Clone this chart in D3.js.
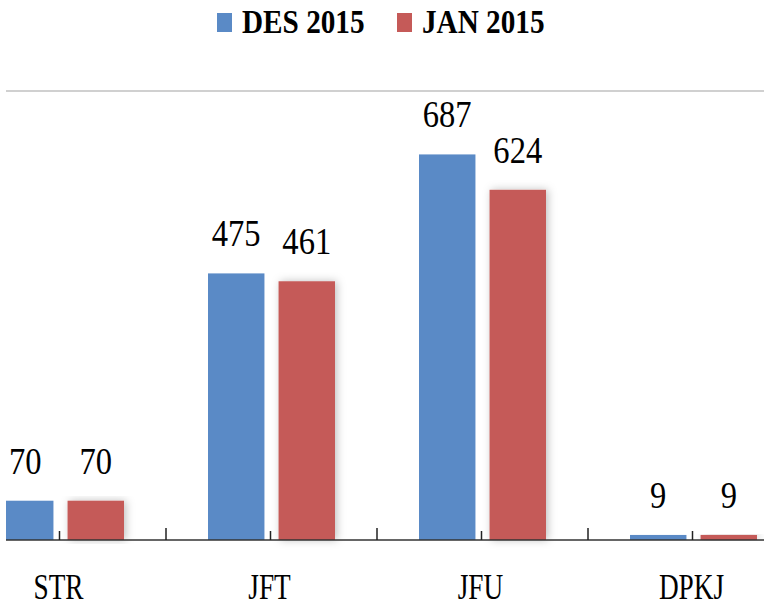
<!DOCTYPE html>
<html>
<head>
<meta charset="utf-8">
<script src="https://cdn.jsdelivr.net/npm/d3@7"></script>
<style>
  body { margin: 0; background: #fff; }
  svg text { font-family: "Liberation Serif", "DejaVu Serif", "Times New Roman", serif; fill: #000; }
</style>
</head>
<body>
<svg width="764" height="608"></svg>
<script>
var categories = ["STR", "JFT", "JFU", "DPKJ"];
var seriesNames = ["DES 2015", "JAN 2015"];
var des2015 = [70, 475, 687, 9];
var jan2015 = [70, 461, 624, 9];
var colors = ["#5a8ac6", "#c55a58"];

var svg = d3.select("svg"),
    width = +svg.attr("width"),
    height = +svg.attr("height");

var plotLeft = 6, baseY = 540, topY = 91;
var serif = "'Liberation Serif', 'DejaVu Serif', serif";

var x = d3.scaleBand()
    .domain(categories)
    .range([-45, 799])
    .paddingInner(0)
    .paddingOuter(0);

var xs = d3.scaleBand()
    .domain(seriesNames)
    .range([x.bandwidth() / 2 - 63.5, x.bandwidth() / 2 + 63.5])
    .paddingInner(0.2);

var y = d3.scaleLinear()
    .domain([0, 800])
    .range([baseY, topY]);

var defs = svg.append("defs");
defs.append("clipPath").attr("id", "plotclip")
    .append("rect").attr("x", plotLeft).attr("y", 0).attr("width", width - plotLeft).attr("height", height);
var shadow = defs.append("filter").attr("id", "shadow")
    .attr("x", "-30%").attr("y", "-10%").attr("width", "160%").attr("height", "120%");
shadow.append("feDropShadow")
    .attr("dx", 2).attr("dy", 0).attr("stdDeviation", 4)
    .attr("flood-color", "#000").attr("flood-opacity", 0.25);

// top gridline
svg.append("line")
    .attr("x1", plotLeft).attr("x2", width)
    .attr("y1", y(800)).attr("y2", y(800))
    .attr("stroke", "#c0c0c0").attr("stroke-width", 1.5);

var rows = categories.map(function (c, i) {
    return { cat: c, values: [des2015[i], jan2015[i]] };
});

var plot = svg.append("g").attr("clip-path", "url(#plotclip)");

var groups = plot.selectAll("g.grp")
    .data(rows)
    .enter().append("g")
    .attr("class", "grp")
    .attr("transform", function (d) { return "translate(" + x(d.cat) + ",0)"; });

groups.selectAll("rect")
    .data(function (d) {
        return d.values.map(function (v, k) { return { name: seriesNames[k], value: v, k: k }; });
    })
    .enter().append("rect")
    .attr("x", function (d) { return xs(d.name); })
    .attr("width", xs.bandwidth())
    .attr("y", function (d) { return y(d.value); })
    .attr("height", function (d) { return baseY - y(d.value); })
    .attr("fill", function (d) { return colors[d.k]; })
    .attr("filter", function (d) { return d.k === 1 ? "url(#shadow)" : null; });

// value labels
groups.selectAll("text.val")
    .data(function (d) {
        return d.values.map(function (v, k) { return { name: seriesNames[k], value: v }; });
    })
    .enter().append("text")
    .attr("class", "val")
    .attr("text-anchor", "middle")
    .style("font-family", serif)
    .attr("font-size", 37)
    .attr("transform", function (d) {
        return "translate(" + (xs(d.name) + xs.bandwidth() / 2) + "," + (y(d.value) - 27) + ") scale(0.88,1)";
    })
    .text(function (d) { return d.value; });

// baseline axis
svg.append("line")
    .attr("x1", plotLeft).attr("x2", width)
    .attr("y1", baseY).attr("y2", baseY)
    .attr("stroke", "#333").attr("stroke-width", 1.5);

var boundaries = categories.slice(1).map(function (c) { return x(c); });
svg.selectAll("line.tickB")
    .data(boundaries)
    .enter().append("line")
    .attr("x1", function (d) { return d; }).attr("x2", function (d) { return d; })
    .attr("y1", baseY - 12).attr("y2", baseY)
    .attr("stroke", "#222").attr("stroke-width", 1.5);

svg.selectAll("line.tickC")
    .data(categories)
    .enter().append("line")
    .attr("x1", function (d) { return x(d) + x.bandwidth() / 2 - 1; })
    .attr("x2", function (d) { return x(d) + x.bandwidth() / 2 - 1; })
    .attr("y1", baseY - 9).attr("y2", baseY)
    .attr("stroke", "#222").attr("stroke-width", 1.5);

// category labels
svg.selectAll("text.cat")
    .data(categories)
    .enter().append("text")
    .attr("class", "cat")
    .attr("text-anchor", "middle")
    .style("font-family", serif)
    .attr("font-size", 35)
    .attr("transform", function (d) {
        return "translate(" + (x(d) + x.bandwidth() / 2 - 2) + ",599) scale(0.78,1)";
    })
    .text(function (d) { return d; });

// legend
var legendX = [217, 397];
var legend = svg.selectAll("g.leg")
    .data(seriesNames)
    .enter().append("g")
    .attr("class", "leg")
    .attr("transform", function (d, i) { return "translate(" + legendX[i] + ",0)"; });

legend.append("rect")
    .attr("x", 0).attr("y", 13)
    .attr("width", 15).attr("height", 19)
    .attr("fill", function (d, i) { return colors[i]; });

legend.append("text")
    .style("font-family", serif)
    .attr("font-size", 34)
    .attr("font-weight", "bold")
    .attr("transform", "translate(25,33) scale(0.86,1)")
    .text(function (d) { return d; });
</script>
</body>
</html>
